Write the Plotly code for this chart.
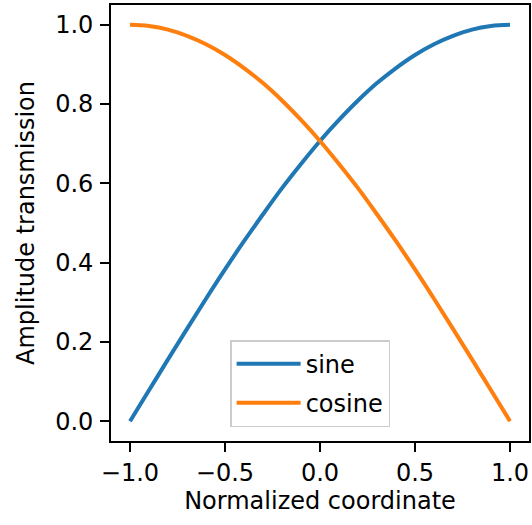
import plotly.graph_objects as go

x_vals = [-1.0, -0.9, -0.8, -0.7, -0.6, -0.5, -0.4, -0.3, -0.2, -0.1, 0.0,
          0.1, 0.2, 0.3, 0.4, 0.5, 0.6, 0.7, 0.8, 0.9, 1.0]
sine_vals = [0.0, 0.078, 0.156, 0.233, 0.309, 0.383, 0.454, 0.522, 0.588, 0.649, 0.707,
             0.760, 0.809, 0.853, 0.891, 0.924, 0.951, 0.972, 0.988, 0.997, 1.0]
cosine_vals = [1.0, 0.997, 0.988, 0.972, 0.951, 0.924, 0.891, 0.853, 0.809, 0.760, 0.707,
               0.649, 0.588, 0.522, 0.454, 0.383, 0.309, 0.233, 0.156, 0.078, 0.0]
x_ticks = [-1.0, -0.5, 0.0, 0.5, 1.0]
x_ticklabels = ["\u22121.0", "\u22120.5", "0.0", "0.5", "1.0"]
y_ticks = [0.0, 0.2, 0.4, 0.6, 0.8, 1.0]
y_ticklabels = ["0.0", "0.2", "0.4", "0.6", "0.8", "1.0"]

FONT = "DejaVu Sans"

fig = go.Figure()
fig.add_trace(go.Scatter(x=x_vals, y=sine_vals, mode="lines", name="sine", legendgroup="a",
                         line=dict(color="#1f77b4", width=4, shape="spline")))
fig.add_trace(go.Scatter(x=x_vals, y=cosine_vals, mode="lines", name="cosine", legendgroup="b",
                         line=dict(color="#ff7f0e", width=4, shape="spline")))

axis_common = dict(showgrid=False, zeroline=False, showline=True, linecolor="black",
                   linewidth=1.6, mirror=True, ticks="outside", ticklen=9, tickwidth=1.6,
                   tickcolor="black", tickfont=dict(family=FONT, size=24, color="black"))

fig.update_xaxes(range=[-1.1, 1.1], tickvals=x_ticks, ticktext=x_ticklabels,
                 title=dict(text="Normalized coordinate", font=dict(family=FONT, size=24, color="black"),
                            standoff=6),
                 **axis_common)
fig.update_yaxes(range=[-0.05, 1.05], tickvals=y_ticks, ticktext=y_ticklabels,
                 ticklabelstandoff=2,
                 title=dict(text="Amplitude transmission", font=dict(family=FONT, size=24, color="black"),
                            standoff=14),
                 **axis_common)

fig.update_layout(
    width=532, height=525,
    margin=dict(l=111, r=3, t=5, b=84, autoexpand=False),
    plot_bgcolor="white", paper_bgcolor="white",
    font=dict(family=FONT, color="black"),
    legend=dict(x=0.285, xanchor="left", y=0.032, yanchor="bottom",
                bgcolor="rgba(255,255,255,0.8)", bordercolor="#cccccc", borderwidth=1.5,
                font=dict(family=FONT, size=24, color="black"), itemwidth=64,
                traceorder="grouped", tracegroupgap=5),
)

fig.write_html("out.html", config={"displayModeBar": False},
               post_script="document.body.style.margin='0';")
